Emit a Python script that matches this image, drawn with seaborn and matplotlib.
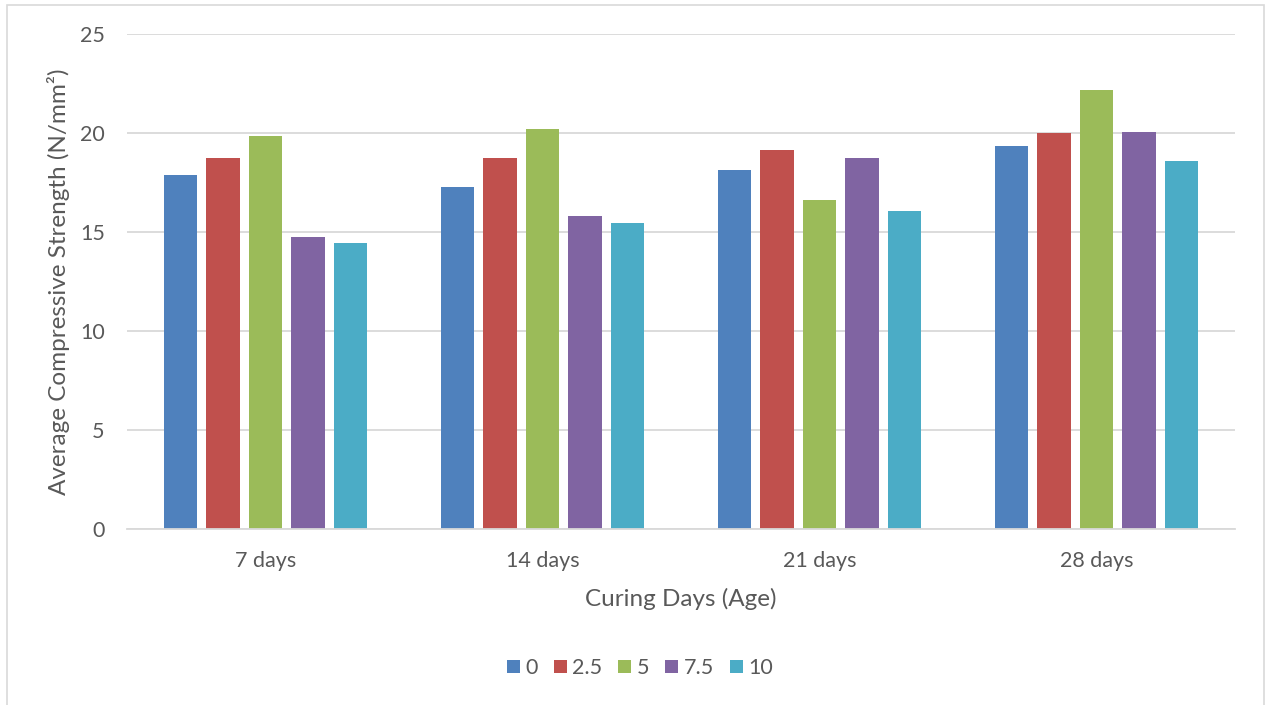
import matplotlib
matplotlib.use("Agg")
import matplotlib.pyplot as plt
import seaborn as sns
import pandas as pd
from matplotlib.patches import Rectangle

# Average compressive strength (N/mm²) per curing age and replacement level
ages = ["7 days", "14 days", "21 days", "28 days"]
levels = ["0", "2.5", "5", "7.5", "10"]
strength_0 = [17.90, 17.28, 18.15, 19.35]
strength_2_5 = [18.73, 18.74, 19.14, 20.01]
strength_5 = [19.83, 20.18, 16.63, 22.16]
strength_7_5 = [14.77, 15.82, 18.74, 20.03]
strength_10 = [14.42, 15.44, 16.04, 18.60]
colors = ["#4F81BD", "#C0504D", "#9BBB59", "#8064A2", "#4BACC6"]

series = [strength_0, strength_2_5, strength_5, strength_7_5, strength_10]
rows = []
for lvl, vals in zip(levels, series):
    for age, v in zip(ages, vals):
        rows.append({"age": age, "level": lvl, "strength": v})
df = pd.DataFrame(rows)

sns.set_theme(style="white")
plt.rcParams["font.family"] = ["Lato", "DejaVu Sans"]
text_color = "#595959"

fig = plt.figure(figsize=(12.65, 7.05), dpi=100)
ax = fig.add_axes([127 / 1265, 1 - 529 / 705, (1235 - 127) / 1265, (529 - 34) / 705])

sns.barplot(data=df, x="age", y="strength", hue="level", order=ages,
            hue_order=levels, palette=colors, width=0.767, gap=0.22,
            saturation=1, errorbar=None, ax=ax, legend=True, linewidth=0)

ax.set_ylim(0, 25)
ax.set_xlim(-0.5, 3.5)
ax.set_yticks([0, 5, 10, 15, 20, 25])
ax.yaxis.grid(True, color="#D9D9D9", linewidth=1.3)
ax.set_axisbelow(True)
for side in ["top", "right", "left"]:
    ax.spines[side].set_visible(False)
ax.spines["bottom"].set_color("#D9D9D9")
ax.spines["bottom"].set_linewidth(1.3)
ax.tick_params(axis="both", length=0, labelsize=15.5, colors=text_color)
ax.tick_params(axis="y", pad=16)
ax.tick_params(axis="x", pad=16)

ax.set_xlabel("Curing Days (Age)", fontsize=17.5, color=text_color, labelpad=12)
ax.set_ylabel("Average Compressive Strength (N/mm²)", fontsize=17.5,
              color=text_color, labelpad=7)

handles, labels = ax.get_legend_handles_labels()
ax.legend_.remove()
fig.legend(handles, labels, loc="center", bbox_to_anchor=(640 / 1265, 1 - 668 / 705),
           ncol=5, frameon=False, fontsize=15.5, handlelength=0.6, handleheight=0.6,
           handletextpad=0.25, columnspacing=0.75, labelcolor=text_color)

# Chart frame
fig.patches.append(Rectangle((7 / 1265, -0.02), (1264 - 7) / 1265, 1.02 - 5 / 705,
                             transform=fig.transFigure, fill=False,
                             edgecolor="#D9D9D9", linewidth=1.2))

fig.savefig("out.png", dpi=100)
